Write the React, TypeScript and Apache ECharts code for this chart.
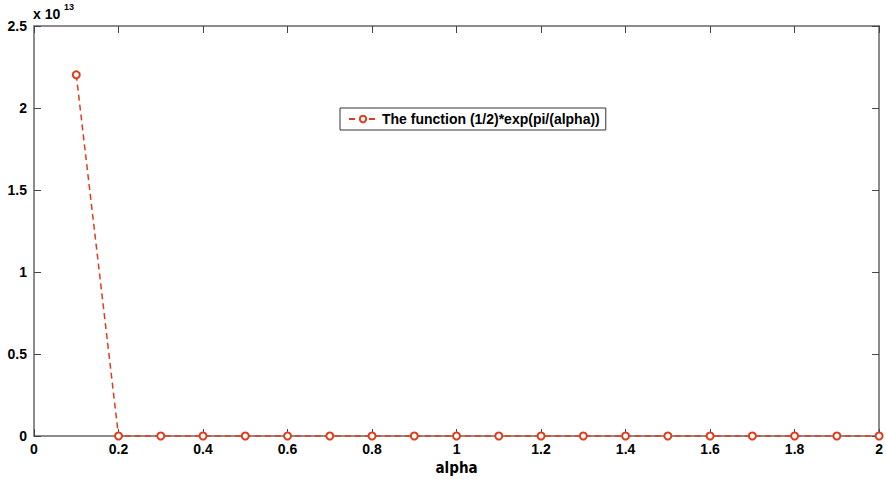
import React, { useEffect, useRef } from "react";
import * as echarts from "echarts";

const alphaValues = [0.1, 0.2, 0.3, 0.4, 0.5, 0.6, 0.7, 0.8, 0.9, 1.0, 1.1, 1.2, 1.3, 1.4, 1.5, 1.6, 1.7, 1.8, 1.9, 2.0];
const funcValues = [2.2026e13, 3.32e6, 17660, 1288, 267.7, 93.9, 44.5, 25.4, 16.4, 11.57, 8.7, 6.85, 5.6, 4.72, 4.06, 3.56, 3.17, 2.86, 2.61, 2.4];
const seriesName = "The function (1/2)*exp(pi/(alpha))";
const yScale = 1e13;

export default function App() {
  const ref = useRef<HTMLDivElement>(null);
  useEffect(() => {
    const chart = echarts.init(ref.current!, null, { renderer: "svg" });
    const font = "'Liberation Sans', Arial, sans-serif";
    const lineColor = "#e03c1c";
    const axisGray = "#8c8c8c";
    const axisLine = { show: true, onZero: false, lineStyle: { color: axisGray, width: 2 } };
    const tickStyle = { show: true, inside: true, length: 7, lineStyle: { color: "#444", width: 1 } };
    const labelStyle = { color: "#000", fontWeight: "bold" as const, fontSize: 14, fontFamily: font };
    chart.setOption({
      animation: false,
      backgroundColor: "#fff",
      grid: { left: 34, right: 5, top: 26, bottom: 45 },
      legend: {
        left: 340,
        top: 108,
        width: 272,
        itemWidth: 28,
        itemHeight: 8,
        itemGap: 4,
        padding: [4, 6, 4, 8],
        borderColor: "#333",
        borderWidth: 1,
        backgroundColor: "#fff",
        textStyle: { color: "#000", fontWeight: "bold", fontSize: 14, fontFamily: font },
        data: [seriesName],
      },
      xAxis: [
        {
          type: "value",
          min: 0,
          max: 2,
          interval: 0.2,
          name: "alpha",
          nameLocation: "middle",
          nameGap: 24,
          nameTextStyle: { color: "#000", fontWeight: "bold", fontSize: 15, fontFamily: "'Liberation Sans Narrow', 'DejaVu Sans Condensed', sans-serif" },
          axisLine,
          axisTick: tickStyle,
          axisLabel: { ...labelStyle, margin: 6, formatter: (v: number) => String(Math.round(v * 10) / 10) },
          splitLine: { show: false },
        },
        {
          type: "value",
          position: "top",
          min: 0,
          max: 2,
          interval: 0.2,
          axisLine,
          axisTick: tickStyle,
          axisLabel: { show: false },
          splitLine: { show: false },
        },
      ],
      yAxis: [
        {
          type: "value",
          min: 0,
          max: 2.5 * yScale,
          interval: 0.5 * yScale,
          axisLine,
          axisTick: tickStyle,
          axisLabel: { ...labelStyle, margin: 7, formatter: (v: number) => String(Math.round((v / yScale) * 10) / 10) },
          splitLine: { show: false },
        },
        {
          type: "value",
          position: "right",
          min: 0,
          max: 2.5 * yScale,
          interval: 0.5 * yScale,
          axisLine,
          axisTick: tickStyle,
          axisLabel: { show: false },
          splitLine: { show: false },
        },
      ],
      graphic: [
        {
          type: "text",
          left: 33,
          top: 7,
          style: { text: "x 10", fill: "#000", font: `bold 14px ${font}` },
        },
        {
          type: "text",
          left: 64,
          top: 2,
          style: { text: "13", fill: "#000", font: `bold 9px ${font}` },
        },
      ],
      series: [
        {
          name: seriesName,
          type: "line",
          data: alphaValues.map((a, i) => [a, funcValues[i]]),
          symbol: "emptyCircle",
          symbolSize: 7,
          showSymbol: true,
          lineStyle: { color: lineColor, width: 1.5, type: [6, 4] },
          itemStyle: { color: lineColor, borderColor: lineColor, borderWidth: 1.2 },
          clip: false,
        },
      ],
    });
    return () => chart.dispose();
  }, []);
  return <div ref={ref} style={{ width: 886, height: 481, position: "absolute", left: 0, top: 0 }} />;
}
